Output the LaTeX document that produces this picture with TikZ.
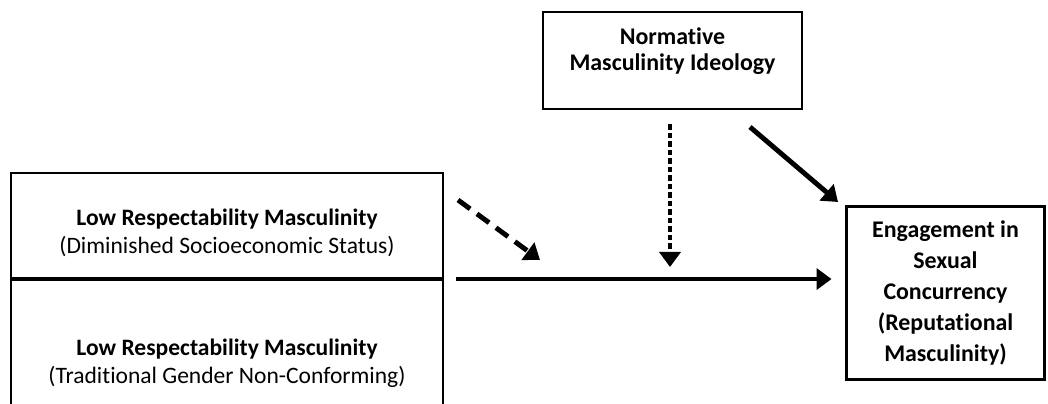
\documentclass[tikz,border=0pt]{standalone}
\usepackage{fontspec}
\setmainfont{Carlito}[Ligatures=NoCommon]
\usepackage{tikz}
\usetikzlibrary{arrows.meta,positioning}

\begin{document}
\begin{tikzpicture}[
  x=0.02cm, y=-0.02cm,
  every node/.style={font=\fontsize{13.4}{16}\selectfont},
  sidebox/.style={draw, line width=1.2pt, minimum width=8.64cm, inner sep=0pt},
  sidetext/.style={align=center, inner sep=0pt},
  modbox/.style={draw, line width=1.5pt, minimum width=5.18cm, minimum height=1.94cm},
  modtext/.style={align=center, inner sep=0pt, font=\fontsize{13.6}{14.5}\selectfont\bfseries},
  outbox/.style={draw, line width=1.7pt, align=center, minimum width=3.98cm, minimum height=3.48cm, font=\fontsize{13.6}{17.7}\selectfont\bfseries},
  path/.style={-{Triangle[length=0.3cm, width=0.42cm]}, line width=2.8pt},
  dashpath/.style={path, dash pattern=on 0.3cm off 0.17cm},
  dotpath/.style={path, dash pattern=on 0.11cm off 0.06cm}
]
\useasboundingbox (0,0) rectangle (1048,404);

% boxes
\node[sidebox, minimum height=2.1cm] (dses) at (227,225.5) {};
\node[sidebox, minimum height=3.4cm, below=0pt of dses] (tgnc) {};
\node[modbox] (norm) at (672.5,60.5) {};
\node[outbox] (engage) at (945.5,293) {Engagement in\\Sexual\\Concurrency\\(Reputational\\Masculinity)};

% box texts
\node[sidetext] (dsestext) at (227,233) {\textbf{Low Respectability Masculinity}\\(Diminished Socioeconomic Status)};
\node[sidetext] (tgnctext) at (227,363) {\textbf{Low Respectability Masculinity}\\(Traditional Gender Non-Conforming)};
\node[modtext] (normtext) at (672.5,51) {Normative\\Masculinity Ideology};

\coordinate (hit) at (engage.west |- dses.south);
\coordinate (modpoint) at (670,278);
\coordinate (dashtail) at (458,200);
\coordinate (dashtip) at (540,260);
\coordinate (normtail) at (750,127);
\coordinate (normtip) at (838,202);

\draw[path, shorten <=0.24cm, shorten >=0.26cm] (dses.south east) -- (hit);
\draw[dotpath, shorten <=0.28cm, shorten >=0.22cm] (norm.south -| modpoint) -- (modpoint);
\draw[dashpath] (dashtail) -- (dashtip);
\draw[path] (normtail) -- (normtip);
\end{tikzpicture}
\end{document}
